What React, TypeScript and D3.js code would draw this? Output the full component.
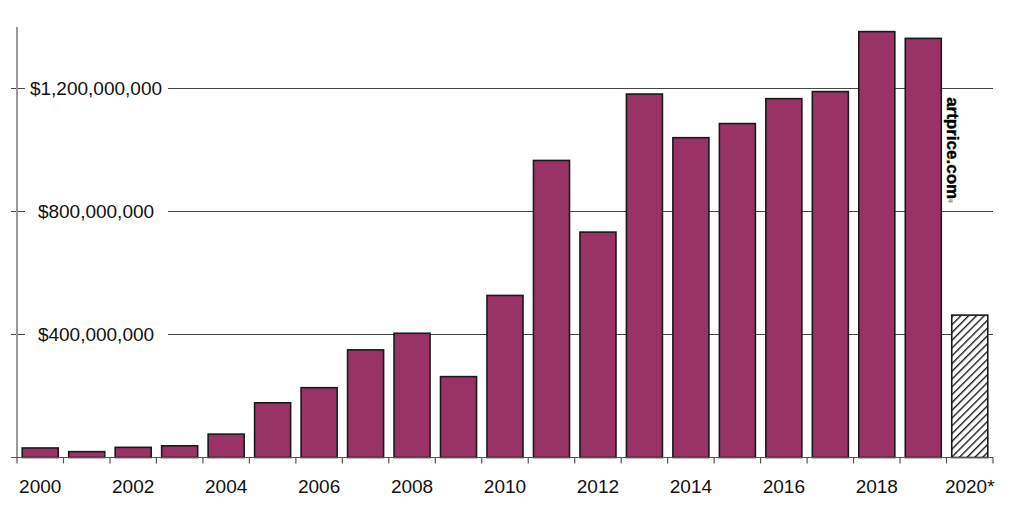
import React from "react";
import * as d3 from "d3";

const years: string[] = [
  "2000","2001","2002","2003","2004","2005","2006","2007","2008","2009","2010",
  "2011","2012","2013","2014","2015","2016","2017","2018","2019","2020",
];
const values: number[] = [
  31e6, 19e6, 33e6, 38e6, 76e6, 178e6, 227e6, 350e6, 404e6, 263e6, 527e6,
  966e6, 733e6, 1182e6, 1040e6, 1086e6, 1167e6, 1190e6, 1385e6, 1363e6, 463e6,
];
const estimatedYears: string[] = ["2020"];
const yTicks: number[] = [400e6, 800e6, 1200e6];
const xLabels: string[] = ["2000","2002","2004","2006","2008","2010","2012","2014","2016","2018","2020"];
const xLabelText = (y: string) => (estimatedYears.includes(y) ? y + "*" : y);

const W = 1024;
const H = 507;
const left = 17;
const right = 993;
const base = 457.5;
const top = 27;

export default function App() {
  const x = d3.scaleBand<string>().domain(years).range([left, right]).paddingInner(0.225).paddingOuter(0.1125);
  const y = d3.scaleLinear().domain([0, 1400e6]).range([base, top]);
  const step = x.step();
  const bw = x.bandwidth();
  const off = (step - bw) / 2;
  const fmt = d3.format("$,");
  const font = "'Liberation Sans', Arial, Helvetica, sans-serif";
  const boundaries = years.map((d) => (x(d) as number) - off).concat([right]);

  return (
    <svg width={W} height={H} style={{ position: "absolute", left: 0, top: 0, background: "#fff" }}>
      <defs>
        <pattern id="hatch" patternUnits="userSpaceOnUse" width={5.5} height={5.5} patternTransform="rotate(45)">
          <rect width={5.5} height={5.5} fill="#fff" />
          <line x1={0} y1={0} x2={0} y2={5.5} stroke="#1a1a1a" strokeWidth={2.8} />
        </pattern>
      </defs>
      {yTicks.map((t) => (
        <line key={"g" + t} x1={11} x2={right} y1={y(t)} y2={y(t)} stroke="#444" strokeWidth={1} />
      ))}
      {years.map((d, i) => (
        <rect
          key={d}
          x={x(d)}
          y={y(values[i])}
          width={bw}
          height={base - y(values[i])}
          fill={estimatedYears.includes(d) ? "url(#hatch)" : "#993366"}
          stroke="#1a1a1a"
          strokeWidth={1.6}
        />
      ))}
      {yTicks.map((t) => (
        <g key={"l" + t}>
          <rect x={25} y={y(t) - 11} width={143} height={22} fill="#fff" />
          <text
            x={96}
            y={y(t)}
            dy="0.36em"
            textAnchor="middle"
            fontFamily={font}
            fontSize={19}
            fill="#111"
          >
            {fmt(t)}
          </text>
        </g>
      ))}
      <line x1={left} x2={left} y1={top} y2={base} stroke="#999" strokeWidth={2} />
      <line x1={11} x2={right} y1={base} y2={base} stroke="#555" strokeWidth={1.2} />
      {boundaries.map((b, i) => (
        <line key={"t" + i} x1={b} x2={b} y1={base} y2={base + 6} stroke="#555" strokeWidth={1.2} />
      ))}
      {xLabels.map((d) => (
        <text
          key={"x" + d}
          x={(x(d) as number) + bw / 2}
          y={493}
          textAnchor="middle"
          fontFamily={font}
          fontSize={19}
          fill="#111"
        >
          {xLabelText(d)}
        </text>
      ))}
      <text
        transform="translate(947,150) rotate(90)"
        textAnchor="middle"
        fontFamily={font}
        fontWeight="bold"
        fontSize={17}
        fill="#000"
        stroke="#000"
        strokeWidth={0.4}
      >
        artprice.com
        <tspan fontSize={5} fontWeight="normal" strokeWidth={0} dy={-1}>®</tspan>
      </text>
    </svg>
  );
}
